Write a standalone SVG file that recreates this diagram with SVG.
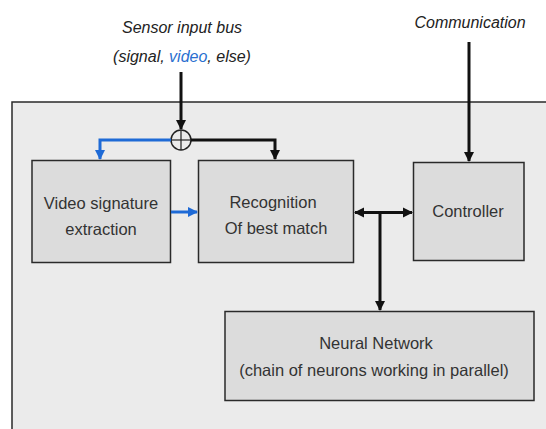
<svg xmlns="http://www.w3.org/2000/svg" width="546" height="429" viewBox="0 0 546 429">
<style>
.node rect{fill:#dcdcdc;stroke:#2a2a2a;stroke-width:1.5}
.lbl{font-family:"Liberation Sans",Arial,sans-serif;font-size:16.5px;fill:#333;text-anchor:middle}
.hdr{font-family:"Liberation Sans",Arial,sans-serif;font-size:16px;font-style:italic;fill:#222;text-anchor:middle}
.k{fill:none;stroke:#111;stroke-width:3}
.b{fill:none;stroke:#1e6ad6;stroke-width:3}
</style>
<defs>
<marker id="ak" viewBox="0 0 10 10" refX="9" refY="5" markerWidth="3.4" markerHeight="3.4" orient="auto-start-reverse" markerUnits="strokeWidth">
<path d="M0,0 L10,5 L0,10 z" fill="#111"/>
</marker>
<marker id="ab" viewBox="0 0 10 10" refX="9" refY="5" markerWidth="3.4" markerHeight="3.4" orient="auto-start-reverse" markerUnits="strokeWidth">
<path d="M0,0 L10,5 L0,10 z" fill="#1e6ad6"/>
</marker>
</defs>
<rect width="546" height="429" fill="#ffffff"/>
<g id="frame">
<rect x="12" y="102" width="540" height="340" fill="#ebebeb" stroke="#2a2a2a" stroke-width="1.5"/>
</g>
<g id="labels">
<text class="hdr" x="182" y="33">Sensor input bus</text>
<text class="hdr" x="182" y="62">(signal, <tspan fill="#2a6fd0">video</tspan>, else)</text>
<text class="hdr" x="470" y="28">Communication</text>
</g>
<g id="video" class="node">
<rect x="32" y="160.5" width="138.5" height="102"/>
<text class="lbl" x="101" y="209">Video signature</text>
<text class="lbl" x="101" y="235">extraction</text>
</g>
<g id="recognition" class="node">
<rect x="198.5" y="160.5" width="155" height="102"/>
<text class="lbl" x="273" y="208">Recognition</text>
<text class="lbl" x="276" y="234">Of best match</text>
</g>
<g id="controller" class="node">
<rect x="413.5" y="162.5" width="110.5" height="98"/>
<text class="lbl" x="468" y="217">Controller</text>
</g>
<g id="neural" class="node">
<rect x="225" y="311.5" width="309" height="89"/>
<text class="lbl" x="376" y="349">Neural Network</text>
<text class="lbl" x="374" y="376">(chain of neurons working in parallel)</text>
</g>
<g id="connectors">
<line class="k" x1="181" y1="72" x2="181" y2="129" marker-end="url(#ak)"/>
<circle cx="181" cy="140" r="10" fill="none" stroke="#222" stroke-width="1.5"/>
<line x1="171" y1="140" x2="191" y2="140" stroke="#222" stroke-width="1.2"/>
<line x1="181" y1="130" x2="181" y2="150" stroke="#222" stroke-width="1.2"/>
<polyline class="b" points="171,140 100,140 100,159" marker-end="url(#ab)"/>
<polyline class="k" points="191,140 275,140 275,159" marker-end="url(#ak)"/>
<line class="b" x1="171" y1="212" x2="197" y2="212" marker-end="url(#ab)"/>
<line class="k" x1="355" y1="212.5" x2="412" y2="212.5" marker-start="url(#ak)" marker-end="url(#ak)"/>
<line class="k" x1="380" y1="212.5" x2="380" y2="310" marker-end="url(#ak)"/>
<line class="k" x1="469" y1="42" x2="469" y2="161" marker-end="url(#ak)"/>
</g>
</svg>
